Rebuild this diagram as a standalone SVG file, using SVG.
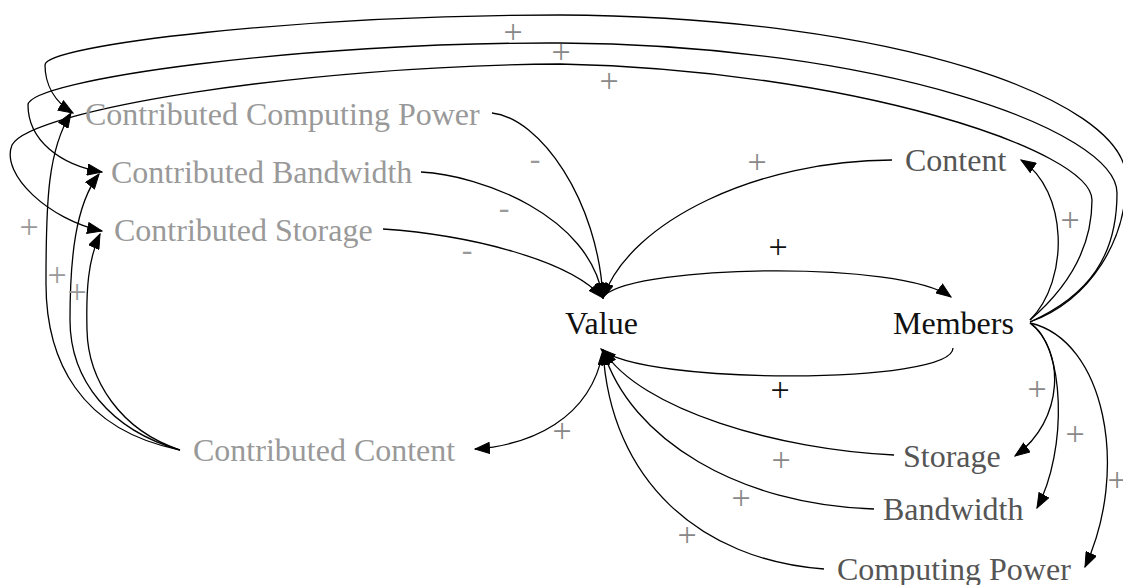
<svg xmlns="http://www.w3.org/2000/svg" width="1123" height="585" viewBox="0 0 1123 585">
<style>
text{font-family:"Liberation Serif","Times New Roman",serif;font-size:32px}
.n1{fill:#999}
.n2{fill:#555}
.n3{fill:#111}
.e{fill:none;stroke:#000;stroke-width:1.3;marker-end:url(#ah)}
.lp{fill:#888;text-anchor:middle;font-size:34px}
.lg{fill:#999;text-anchor:middle;font-size:34px}
.lb{fill:#111;text-anchor:middle;font-size:34px}
.lm{fill:#999;text-anchor:middle}
</style>
<defs>
<marker id="ah" markerUnits="userSpaceOnUse" markerWidth="16" markerHeight="12" refX="15" refY="6" orient="auto" viewBox="0 0 16 12">
<path d="M0.5,0.5 L15,6 L0.5,11.5 z" fill="#000" stroke="#000" stroke-width="1"/>
</marker>
</defs>
<rect width="1123" height="585" fill="#fff"/>
<g id="connectors">
<path class="e" d="M492,113 C540,118 598,200 603,298"/>
<path class="e" d="M421,172 C480,175 590,215 603,298"/>
<path class="e" d="M383,229 C470,235 570,260 603,298"/>
<path class="e" d="M892,160 C760,160 630,220 603,298"/>
<path class="e" d="M605,295 C640,265 900,260 951,297"/>
<path class="e" d="M953,348 C953,385 640,385 601,349"/>
<path class="e" d="M894,455 C780,450 640,410 603,350"/>
<path class="e" d="M874,509 C740,505 630,440 603,350"/>
<path class="e" d="M824,569 C700,560 610,480 603,350"/>
<path class="e" d="M603,352 C590,420 530,445 475,449"/>
<path class="e" d="M1030,320 C1070,280 1068,190 1021,160"/>
<path class="e" d="M1030,323 C1065,350 1065,420 1015,456"/>
<path class="e" d="M1030,323 C1065,345 1068,450 1037,508"/>
<path class="e" d="M1030,323 C1105,340 1130,470 1085,567"/>
<path class="e" d="M1030,322 C1090,300 1128,240 1126,175 C1120,100 900,17 560,15 C300,15 45,45 45,65 C45,85 55,102 73,113"/>
<path class="e" d="M1030,322 C1090,295 1117,255 1117,193 C1117,130 880,45 560,43 C300,42 28,80 28,105 C28,140 60,165 102,172"/>
<path class="e" d="M1030,320 C1065,290 1092,250 1092,200 C1092,150 850,70 560,64 C300,66 30,110 12,145 C0,175 50,220 102,231"/>
<path class="e" d="M180,450 C80,430 45,360 46,280 C46,200 48,150 71,113"/>
<path class="e" d="M180,450 C110,430 70,380 70,320 C70,260 75,205 99,174"/>
<path class="e" d="M180,450 C120,430 88,380 87,330 C86,290 88,260 100,234"/>
<text class="lm" x="535" y="169">-</text>
<text class="lm" x="504" y="218">-</text>
<text class="lm" x="467" y="260">-</text>
<text class="lp" x="757" y="173">+</text>
<text class="lb" x="778" y="258">+</text>
<text class="lb" x="780" y="401">+</text>
<text class="lp" x="781" y="471">+</text>
<text class="lp" x="741" y="509">+</text>
<text class="lp" x="687" y="546">+</text>
<text class="lp" x="562" y="442">+</text>
<text class="lp" x="1070" y="231">+</text>
<text class="lp" x="1037" y="400">+</text>
<text class="lp" x="1075" y="445">+</text>
<text class="lp" x="1117" y="491">+</text>
<text class="lp" x="513" y="43">+</text>
<text class="lp" x="561" y="63">+</text>
<text class="lp" x="609" y="92">+</text>
<text class="lg" x="29" y="238">+</text>
<text class="lg" x="57" y="286">+</text>
<text class="lg" x="77" y="303">+</text>
</g>
<g id="contributed-computing-power"><text class="n1" x="85" y="125">Contributed Computing Power</text></g>
<g id="contributed-bandwidth"><text class="n1" x="111" y="183">Contributed Bandwidth</text></g>
<g id="contributed-storage"><text class="n1" x="114" y="241">Contributed Storage</text></g>
<g id="contributed-content"><text class="n1" x="193" y="461">Contributed Content</text></g>
<g id="value"><text class="n3" x="565" y="334">Value</text></g>
<g id="members"><text class="n3" x="893" y="334">Members</text></g>
<g id="content"><text class="n2" x="905" y="171">Content</text></g>
<g id="storage"><text class="n2" x="903" y="467">Storage</text></g>
<g id="bandwidth"><text class="n2" x="883" y="520">Bandwidth</text></g>
<g id="computing-power"><text class="n2" x="837" y="580">Computing Power</text></g>
</svg>
